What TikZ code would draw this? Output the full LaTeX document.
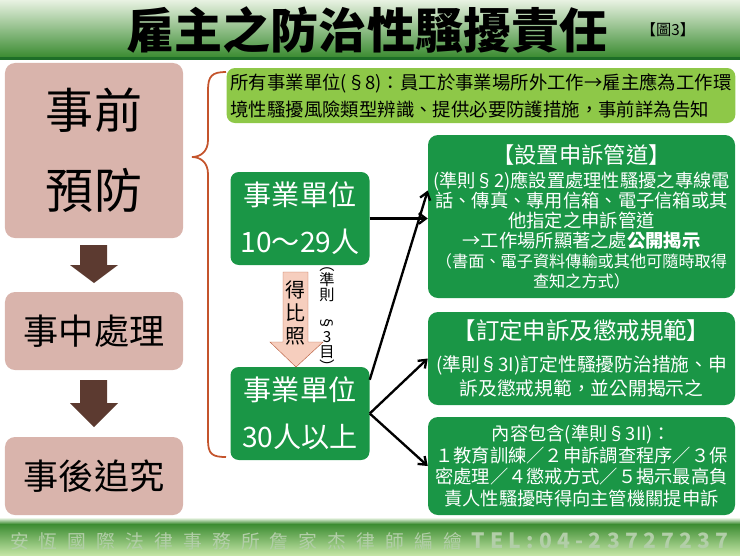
\documentclass[tikz,border=0pt]{standalone}
\usepackage{fontspec}
\setmainfont{Noto Sans CJK TC}
\usepackage{xcolor}
\usetikzlibrary{arrows.meta}

\definecolor{pinkbox}{RGB}{217,180,172}
\definecolor{brownarr}{RGB}{92,58,48}
\definecolor{bracecol}{RGB}{196,84,44}
\definecolor{lightgreen}{RGB}{142,200,72}
\definecolor{darkgreen}{RGB}{26,150,70}
\definecolor{peach}{RGB}{246,206,190}
\definecolor{peachline}{RGB}{188,100,70}
\definecolor{footgreen}{RGB}{178,206,168}
\definecolor{bandtop}{RGB}{232,242,226}
\definecolor{bandmid}{RGB}{170,210,150}
\definecolor{bandlow}{RGB}{60,140,50}
\definecolor{bandline}{RGB}{30,110,40}
\definecolor{foottop}{RGB}{235,245,230}
\definecolor{footdark}{RGB}{60,140,50}
\definecolor{footlow}{RGB}{195,228,165}

\tikzset{
  stage/.style={rectangle,rounded corners=0.3cm,fill=pinkbox,minimum width=5.34cm,align=center},
  unit/.style={rectangle,rounded corners=0.25cm,fill=darkgreen,text=white,minimum width=4.17cm,minimum height=2.79cm,align=center,font=\fontsize{24}{40}\selectfont},
  duty/.style={rectangle,rounded corners=0.3cm,fill=darkgreen,text=white,minimum width=9.21cm,align=center,inner sep=0pt},
  link/.style={-{Straight Barb[length=6pt,width=9pt]},line width=2pt,black},
}

\begin{document}
\begin{tikzpicture}[x=0.03cm,y=-0.03cm]
\useasboundingbox (0,0) rectangle (740,555);
% title band
\shade[top color=bandtop,middle color=bandmid,bottom color=bandlow] (0,0) rectangle (740,57);
\fill[bandline] (0,57) rectangle (740,60);
\node (title) at (367,30) [font=\fontsize{41}{41}\selectfont\bfseries] {雇主之防治性騷擾責任};
\node (fig) at (668,30) [font=\fontsize{13}{13}\selectfont] {【圖3】};

% left column
\node (pre) at (94,150.5) [stage,minimum height=5.25cm,font=\fontsize{41}{68}\selectfont] {事前\\預防};
\node (mid) at (94,331) [stage,minimum height=2.34cm,font=\fontsize{30}{30}\selectfont] {事中處理};
\node (post) at (94,476) [stage,minimum height=2.34cm,font=\fontsize{30}{30}\selectfont] {事後追究};
\fill[brownarr] (80,245) -- (107,245) -- (107,265) -- (118,265) -- (94,283) -- (70,265) -- (80,265) -- cycle;
\fill[brownarr] (80,380) -- (107,380) -- (107,403) -- (118,403) -- (94,427) -- (70,403) -- (80,403) -- cycle;

% brace
\draw[bracecol,line width=1.5pt] (226,72) .. controls (212,72) and (208,76) .. (208,90) -- (208,140) .. controls (208,152) and (200,157) .. (192,157) .. controls (200,157) and (208,162) .. (208,174) -- (208,440) .. controls (208,454) and (212,457) .. (226,457);

\node (all) at (481,95.5) [rectangle,rounded corners=0.25cm,fill=lightgreen,minimum width=15.06cm,minimum height=1.65cm,align=left,font=\fontsize{15.7}{23}\selectfont] {所有事業單位(§8)：員工於事業場所外工作→雇主應為工作環\\境性騷擾風險類型辨識、提供必要防護措施，事前詳為告知};

% units
\node (small) at (300,218.5) [unit] {事業單位\\10～29人};
\node (large) at (300,413.5) [unit] {事業單位\\30人以上};
\draw[peachline,fill=peach] (283,272) -- (308,272) -- (308,342) -- (323,342) -- (296,367) -- (270,342) -- (283,342) -- cycle;
\node (same) at (295.5,313) [font=\fontsize{17}{20}\selectfont,align=center] {得\\比\\照};
\node (rule) at (327,320) [font=\fontsize{13}{12.8}\selectfont,align=center,inner sep=1pt] {︵\\準\\則\\\rotatebox{-90}{§}\\3\\目\\︶};

% duties
\node (channel) at (581.5,216.5) [duty,minimum height=4.89cm,font=\fontsize{15.6}{17}\selectfont] {{\fontsize{19}{22}\selectfont【設置申訴管道】}\\[4pt](準則§2)應設置處理性騷擾之專線電\\話、傳真、專用信箱、電子信箱或其\\他指定之申訴管道\\→工作場所顯著之處\textbf{公開揭示}\\{\fontsize{13.8}{17}\selectfont（書面、電子資料傳輸或其他可隨時取得}\\{\fontsize{13.8}{17}\selectfont 查知之方式）}};
\node (rules) at (581.5,358.5) [duty,minimum height=2.79cm,font=\fontsize{16}{21}\selectfont] {{\fontsize{20}{24}\selectfont【訂定申訴及懲戒規範】}\\[6pt](準則§3I)訂定性騷擾防治措施、申\\訴及懲戒規範，並公開揭示之};
\node (content) at (581.5,466) [duty,minimum height=2.94cm,font=\fontsize{15.6}{18.3}\selectfont] {內容包含(準則§3II)：\\１教育訓練／２申訴調查程序／３保\\密處理／４懲戒方式／５揭示最高負\\責人性騷擾時得向主管機關提申訴};

\draw[link] (small.east) -- (small.east -| channel.west);
\draw[link] ([yshift=-0.39cm]large.north east) -- ([yshift=0.78cm]channel.west);
\draw[link] (large.east) -- (rules.west);
\draw[link] (large.east) -- (content.west);

% footer band
\shade[top color=foottop,bottom color=footdark] (0,518) rectangle (740,524);
\shade[top color=footdark,middle color=footdark,bottom color=footlow] (0,524) rectangle (740,555);
\node (credit) at (236,541) [text=footgreen,font=\fontsize{16}{16}\selectfont\addfontfeatures{LetterSpace=54}] {安恆國際法律事務所詹家杰律師編繪};
\node (tel) at (600,541) [text=footgreen,font=\fontsize{18}{18}\selectfont\bfseries\addfontfeatures{LetterSpace=25}] {TEL:04-23727237};
\end{tikzpicture}
\end{document}
